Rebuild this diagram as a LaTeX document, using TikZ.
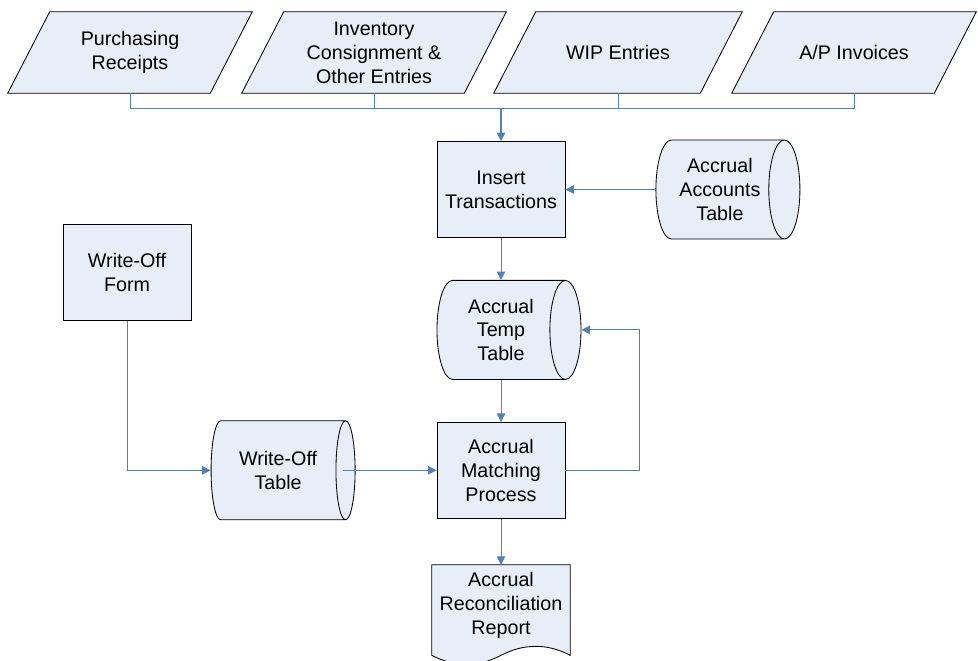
\documentclass[tikz,border=0pt]{standalone}
\usepackage{fontspec}
\setmainfont{Liberation Sans}
\usetikzlibrary{positioning, arrows.meta, shapes.geometric, backgrounds}
\definecolor{box_fill}{HTML}{E8EEF7}
\definecolor{flow_blue}{HTML}{4F81BD}

\begin{document}
\begin{tikzpicture}[
    % --- Global Settings ---
    % One unit is one pixel of the layout, y grows downwards
    x=0.025cm, y=-0.025cm,
    % Default gap between stacked blocks
    node distance = 1.05cm,
    % Font for all nodes in the picture
    every node/.style={font=\fontsize{14}{17}\selectfont}
  ]

  % --- Style Definitions ---
  \tikzset{
    % Outline and fill shared by all shapes
    outline/.style={
      draw=black,
      line width=0.6pt,
      fill=box_fill
    },
    % Process boxes
    block/.style={
      outline,
      minimum width=3.2cm,
      minimum height=2.4cm,
      align=center
    },
    % Input data: the node is the mid-height body, slanted outline added later
    inputbox/.style={
      minimum width=5.05cm,
      minimum height=2.025cm,
      inner sep=0pt,
      align=center
    },
    % Stored tables (lying cylinders); height is the length along the axis
    storage/.style={
      cylinder,
      shape aspect=0.5,
      outline,
      minimum width=2.475cm,
      minimum height=3.6cm,
      inner sep=0pt,
      align=center
    },
    % Printed report, outline drawn afterwards
    report/.style={
      minimum width=3.45cm,
      minimum height=2cm,
      align=center
    },
    % Connectors
    link/.style={
      draw=flow_blue,
      line width=0.7pt
    },
    arrow/.style={
      link,
      -{Triangle[length=6pt, width=6pt]}
    }
  }

  \useasboundingbox (0,0) rectangle (978,660);

  % --- Node Placement ---
  % Input documents along the top
  \node[inputbox] (purch) at (130, 52.5) {Purchasing\\Receipts};
  \node[inputbox, minimum width=5.55cm] (invent) at (374, 52.5) {Inventory\\Consignment \&\\Other Entries};
  \node[inputbox, minimum width=5.15cm] (wip) at (618, 52.5) {WIP Entries};
  \node[inputbox] (apinv) at (854, 52.5) {A/P Invoices};

  % Main column
  \node[block] (insert) at (501, 189.5) {Insert\\Transactions};
  \node[storage] (acctab) [right=2.25cm of insert] {Accrual\\Accounts\\Table};
  \node[storage] (temptab) [below=of insert] {Accrual\\Temp\\Table};
  \node[block] (match) [below=of temptab] {Accrual\\Matching\\Process};
  \node[report] (recon) [below=1.15cm of match] {Accrual\\Reconciliation\\Report};

  % Write-off branch on the left
  \node[block] (woform) at (127, 272.5) {Write-Off\\Form};
  \node[storage] (wotab) [left=2.025cm of match] {Write-Off\\Table};

  % --- Outlines behind the text ---
  \begin{scope}[on background layer]
    % Slanted input boxes
    \foreach \n in {purch, invent, wip, apinv}
      \draw[outline]
        ([xshift=-0.525cm]\n.south west) -- ([xshift=0.525cm]\n.north west)
        -- ([xshift=0.525cm]\n.north east) -- ([xshift=-0.525cm]\n.south east)
        -- cycle;
    % Document with a wavy lower edge
    \draw[outline]
      (recon.north west) -- (recon.north east)
      -- ([yshift=-0.25cm]recon.south east)
      .. controls +(-0.575cm,0.3cm) and +(0.575cm,0.3cm) .. ([yshift=-0.25cm]recon.south)
      .. controls +(-0.575cm,-0.3cm) and +(0.575cm,-0.3cm) .. ([yshift=-0.25cm]recon.south west)
      -- cycle;
  \end{scope}

  % --- Path and Arrow Drawing ---
  % Collecting line under the inputs
  \coordinate (bus) at (501, 108);
  \draw[link] (purch.south) |- (apinv.south |- bus) -- (apinv.south);
  \draw[link] (invent.south) -- (invent.south |- bus);
  \draw[link] (wip.south) -- (wip.south |- bus);
  \draw[arrow, line width=1pt] (insert.north |- bus) -- (insert.north);

  % Main flow
  \draw[arrow] (acctab.west) -- (acctab.west -| insert.east);
  \draw[arrow] (insert.south) -- (temptab.north);
  \draw[arrow] (temptab.south) -- (match.north);
  \draw[arrow] (match.south) -- (recon.north);

  % Feedback into the temp table
  \draw[arrow] (match.east) -- ++(1.85cm,0) |- (temptab.east);

  % Write-off entries
  \draw[arrow] (woform.south) |- (wotab.west);
  \draw[arrow] ([xshift=-0.32cm]wotab.east) -- (match.west);

\end{tikzpicture}
\end{document}
